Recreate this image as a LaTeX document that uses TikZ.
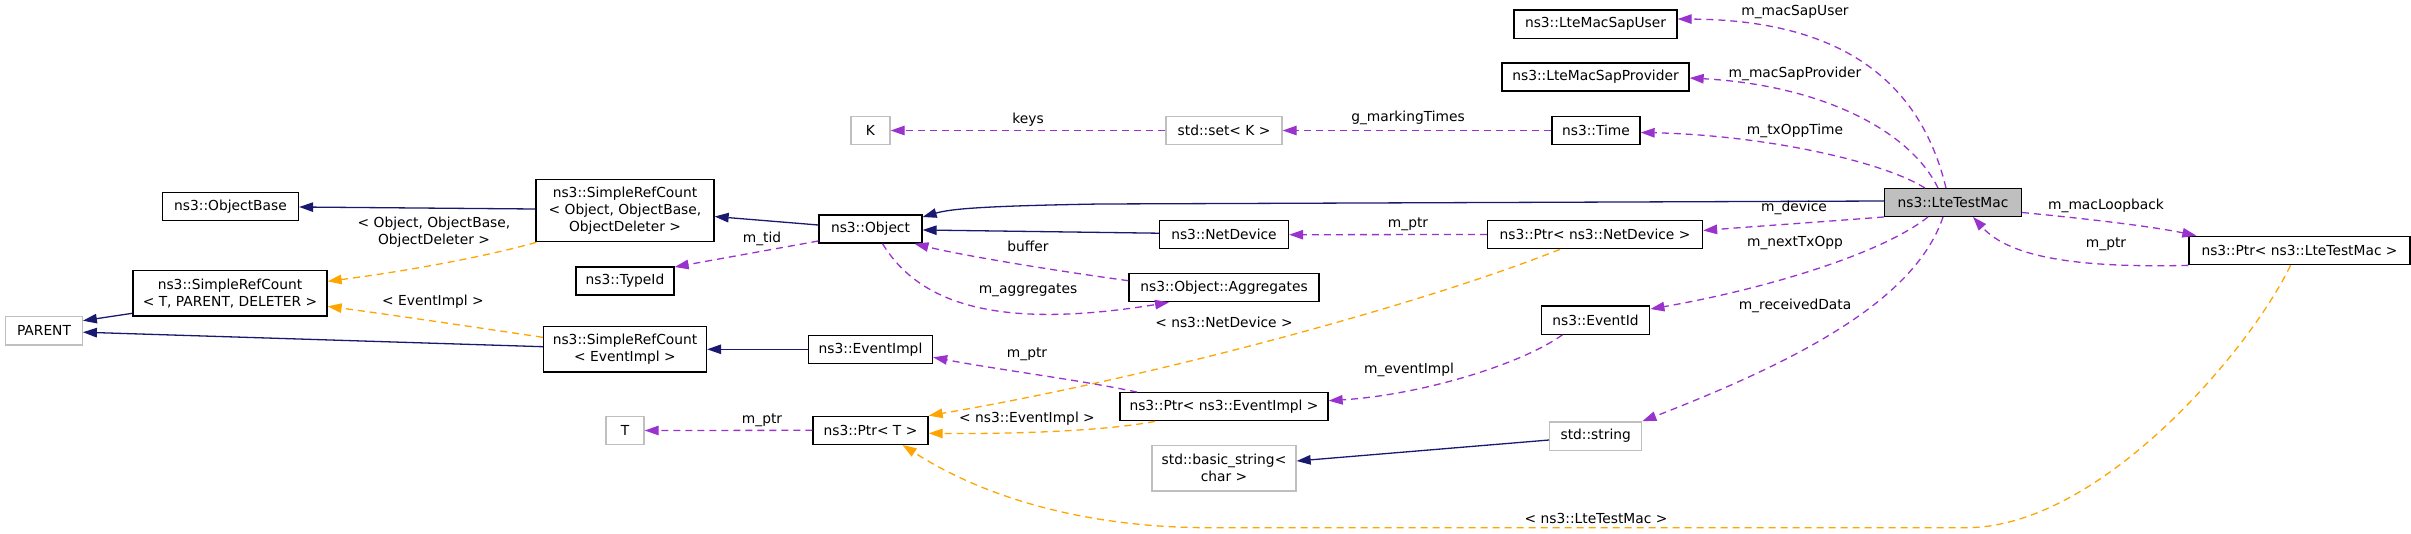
\documentclass[tikz,border=0pt]{standalone}
\usepackage{fontspec}
\setmainfont{DejaVu Sans}
\usetikzlibrary{arrows.meta}
\definecolor{navyc}{HTML}{191970}
\definecolor{purc}{HTML}{9A32CD}
\definecolor{orac}{HTML}{FFA500}
\definecolor{grayb}{HTML}{BFBFBF}
\begin{document}
\begin{tikzpicture}[x=1pt,y=-1pt,
  font=\fontsize{13.8}{17}\selectfont,
  box/.style={draw=black, line width=1.3pt, fill=white, inner sep=0pt, align=center},
  ubox/.style={draw=grayb, line width=1.3pt, fill=white, inner sep=0pt, align=center},
  tip/.style={-{Triangle[length=14pt,width=9.5pt]}},
  ne/.style={draw=navyc, line width=1.3pt, tip, navyc},
  pe/.style={draw=purc, line width=1.3pt, tip, purc, dash pattern=on 7pt off 5pt},
  oe/.style={draw=orac, line width=1.3pt, tip, orac, dash pattern=on 7pt off 5pt},
  lbl/.style={inner sep=0pt, align=center}]
\useasboundingbox (0,0) rectangle (2411,533);

% nodes
\node[ubox, minimum width=76.5pt, minimum height=28.7pt] (parent) at (44,330.7) {PARENT};
\node[box, minimum width=136pt, minimum height=27.6pt] (objbase) at (230.5,206.5) {ns3::ObjectBase};
\node[box, minimum width=194pt, minimum height=45.3pt] (srctpd) at (230,293.3) {ns3::SimpleRefCount\\< T, PARENT, DELETER >};
\node[box, minimum width=178pt, minimum height=62.4pt] (srcobj) at (625,210.5) {ns3::SimpleRefCount\\< Object, ObjectBase,\\ObjectDeleter >};
\node[box, minimum width=98pt, minimum height=28pt] (typeid) at (625,281) {ns3::TypeId};
\node[box, minimum width=163pt, minimum height=45.3pt] (srcei) at (625,349.3) {ns3::SimpleRefCount\\< EventImpl >};
\node[ubox, minimum width=38pt, minimum height=27.6pt] (tt) at (625,430.5) {T};
\node[box, minimum width=103pt, minimum height=28pt] (obj) at (870.5,229) {ns3::Object};
\node[box, minimum width=124pt, minimum height=28pt] (evimpl) at (870.5,349.3) {ns3::EventImpl};
\node[box, minimum width=115pt, minimum height=28pt] (ptrt) at (870.5,430.3) {ns3::Ptr< T >};
\node[ubox, minimum width=39pt, minimum height=27.6pt] (kk) at (870.5,130.5) {K};
\node[ubox, minimum width=116pt, minimum height=27.6pt] (setk) at (1224,130.5) {std::set< K >};
\node[box, minimum width=129pt, minimum height=28pt] (netdev) at (1224,234.7) {ns3::NetDevice};
\node[box, minimum width=190pt, minimum height=28pt] (aggr) at (1224,287.7) {ns3::Object::Aggregates};
\node[box, minimum width=208pt, minimum height=28pt] (ptrei) at (1224,406.7) {ns3::Ptr< ns3::EventImpl >};
\node[ubox, minimum width=144pt, minimum height=45.7pt] (bstr) at (1224,468) {std::basic\_string<\\char >};
\node[box, minimum width=163pt, minimum height=28.3pt] (sapuser) at (1595.5,24) {ns3::LteMacSapUser};
\node[box, minimum width=187pt, minimum height=28pt] (sapprov) at (1595.5,77) {ns3::LteMacSapProvider};
\node[box, minimum width=88pt, minimum height=28pt] (time) at (1596,130.5) {ns3::Time};
\node[box, minimum width=215pt, minimum height=28.4pt] (ptrnd) at (1595,234.5) {ns3::Ptr< ns3::NetDevice >};
\node[box, minimum width=108.5pt, minimum height=28.3pt] (evid) at (1595.5,320) {ns3::EventId};
\node[ubox, minimum width=92pt, minimum height=28.3pt] (str) at (1595.7,436) {std::string};
\node[box, fill=grayb, minimum width=136.5pt, minimum height=27.6pt] (ltm) at (1953,202.5) {ns3::LteTestMac};
\node[box, minimum width=221pt, minimum height=28.4pt] (ptrltm) at (2299.5,250.5) {ns3::Ptr< ns3::LteTestMac >};

% inheritance / solid edges
\draw[ne] ([yshift=1.5pt]srcobj.west) -- ([yshift=-0.5pt]objbase.east);
\draw[ne] ([yshift=-20pt]srctpd.west) -- ([yshift=10pt]parent.east);
\draw[ne] ([yshift=2.6pt]srcei.west) -- ([yshift=-1.5pt]parent.east);
\draw[ne] ([yshift=4pt]obj.west) -- ([yshift=-6pt]srcobj.east);
\coordinate (bendA) at (1100,204);
\draw[ne] ([yshift=1.5pt]ltm.west) -- (bendA) .. controls (980,206) and (950,209) .. ([yshift=12pt]obj.east);
\draw[ne] ([yshift=1.5pt]netdev.west) -- ([yshift=-1pt]obj.east);
\draw[ne] (evimpl.west) -- (srcei.east);
\draw[ne] ([yshift=-4pt]str.west) -- ([yshift=7pt]bstr.east);

% template edges
\draw[oe] ([xshift=1pt]srcobj.south west) .. controls (480,258) and (400,272) .. ([yshift=12pt]srctpd.east);
\draw[oe] ([yshift=12pt]srcei.west) .. controls (480,328) and (400,316) .. ([yshift=-13pt]srctpd.east);
\draw[oe] ([xshift=-35pt]ptrnd.south) .. controls (1420,305) and (1150,378) .. (ptrt.north east);
\draw[oe] ([xshift=-69pt]ptrei.south) .. controls (1100,432) and (1000,434) .. ([yshift=-3pt]ptrt.east);
\coordinate (bendB) at (1966,527.7);
\coordinate (bendC) at (1210,527.7);
\draw[oe] ([xshift=-9pt]ptrltm.south) .. controls (2250,350) and (2100,527.7) .. (bendB) -- (bendC) .. controls (1080,527.7) and (980,495) .. ([xshift=32pt]ptrt.south);

% member edges
\draw[pe] (setk.west) -- (kk.east);
\draw[pe] (time.west) -- (setk.east);
\draw[pe] (ptrnd.west) -- (netdev.east);
\draw[pe] ([yshift=-12pt]obj.west) -- ([yshift=14pt]typeid.east);
\draw[pe] ([yshift=7pt]aggr.west) .. controls (1050,270) and (960,255) .. ([xshift=44pt]obj.south);
\draw[pe] ([xshift=12pt]obj.south) .. controls (920,305) and (1000,330) .. ([xshift=-55pt]aggr.south);
\draw[pe] (ptrt.west) -- (tt.east);
\draw[pe] ([xshift=-87pt]ptrei.north) .. controls (1080,380) and (1000,370) .. ([yshift=-8pt]evimpl.east);
\draw[pe] ([xshift=-33pt]evid.south) .. controls (1520,365) and (1420,395) .. ([yshift=6pt]ptrei.east);
\draw[pe] ([xshift=-7pt]ltm.north) .. controls (1920,80) and (1840,20) .. ([yshift=5pt]sapuser.east);
\draw[pe] ([xshift=-15pt]ltm.north) .. controls (1910,130) and (1820,85) .. ([yshift=-1pt]sapprov.east);
\draw[pe] ([xshift=-28pt]ltm.north) .. controls (1880,160) and (1760,135) .. ([yshift=-2pt]time.east);
\draw[pe] (ltm.south west) .. controls (1820,222) and (1760,226) .. ([yshift=4pt]ptrnd.east);
\draw[pe] ([xshift=-25pt]ltm.south) .. controls (1880,255) and (1760,290) .. ([yshift=11pt]evid.east);
\draw[pe] ([xshift=-10pt]ltm.south) .. controls (1915,300) and (1800,360) .. (str.north east);
\draw[pe] ([yshift=-10pt]ltm.east) .. controls (2080,218) and (2150,226) .. ([xshift=8pt]ptrltm.north west);
\draw[pe] (ptrltm.south west) .. controls (2080,268) and (2010,258) .. ([xshift=20pt]ltm.south);

% labels
\node[lbl] (l1) at (434,232) {< Object, ObjectBase,\\ObjectDeleter >};
\node[lbl] (l2) at (433,302) {< EventImpl >};
\node[lbl] (l3) at (762,239) {m\_tid};
\node[lbl] (l4) at (1028,120) {keys};
\node[lbl] (l5) at (1028,246) {buffer};
\node[lbl] (l6) at (1028,290) {m\_aggregates};
\node[lbl] (l7) at (1408,118) {g\_markingTimes};
\node[lbl] (l8) at (1408,224) {m\_ptr};
\node[lbl] (l9) at (1224,322) {< ns3::NetDevice >};
\node[lbl] (l10) at (1027,354) {m\_ptr};
\node[lbl] (l11) at (762,420) {m\_ptr};
\node[lbl] (l12) at (1027,419) {< ns3::EventImpl >};
\node[lbl] (l13) at (1409,370) {m\_eventImpl};
\node[lbl] (l14) at (1795,12) {m\_macSapUser};
\node[lbl] (l15) at (1795,74) {m\_macSapProvider};
\node[lbl] (l16) at (1795,131) {m\_txOppTime};
\node[lbl] (l17) at (1794,208) {m\_device};
\node[lbl] (l18) at (1795,243) {m\_nextTxOpp};
\node[lbl] (l19) at (1795,306) {m\_receivedData};
\node[lbl] (l20) at (2106,206) {m\_macLoopback};
\node[lbl] (l21) at (2106,244) {m\_ptr};
\node[lbl] (l22) at (1596,518) {< ns3::LteTestMac >};
\end{tikzpicture}
\end{document}
